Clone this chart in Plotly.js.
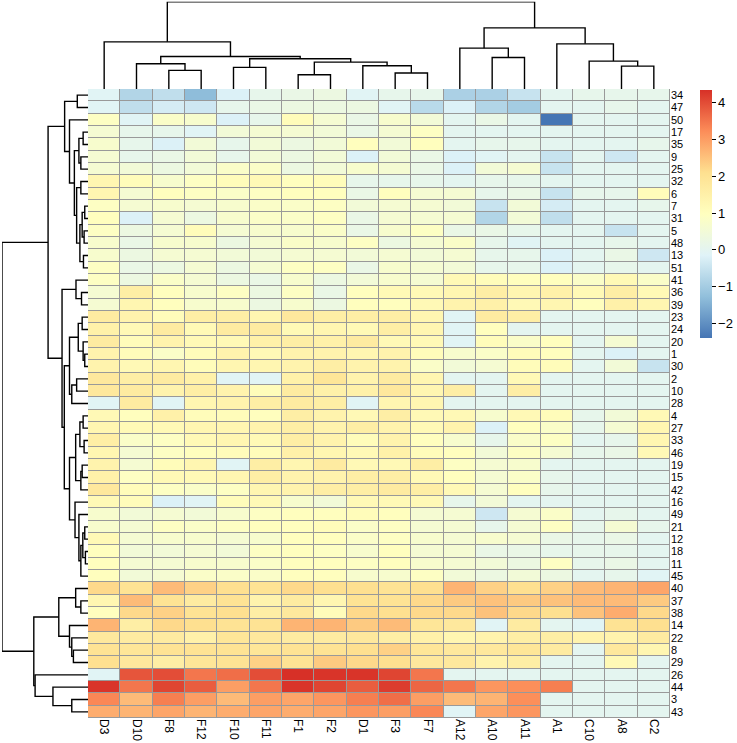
<!DOCTYPE html>
<html>
<head>
<meta charset="utf-8">
<script src="https://cdn.plot.ly/plotly-3.0.1.min.js"></script>
<style>html,body{margin:0;padding:0;background:#fff;}#chart{width:737px;height:743px;}</style>
</head>
<body>
<div id="chart"></div>
<script>
// Column (sample) labels in display order
const columns = ["D3","D10","F8","F12","F10","F11","F1","F2","D1","F3","F7","A12","A10","A11","A1","C10","A8","C2"];
// Row labels in display order (top to bottom)
const rowLabels = ["34","47","50","17","35","9","25","32","6","7","31","5","48","13","51","41","36","39","23","24","20","1","30","2","10","28","4","27","33","46","19","15","42","16","49","21","12","18","11","45","40","37","38","14","22","8","29","26","44","3","43"];

// Values per row (same order as rowLabels), columns as above
const r34 = [-0.1,-0.8,-0.6,-1.3,-0.2,0.1,0.2,0.3,-0.1,0.1,0.1,-0.9,-0.9,-0.5,0,0.1,0.1,0.1];
const r47 = [-0.1,-0.6,-0.3,-0.4,0.1,0.2,0.3,0.3,0.3,-0.1,-0.7,-0.2,-0.8,-1.0,0,0,0.1,0];
const r50 = [0.9,-0.1,0.8,0.7,-0.2,0.1,1.1,0.6,0.2,0.7,0.5,0,0.2,0,-2.4,0,0,0];
const r17 = [0.6,0.1,0.1,-0.1,0.5,0.6,0.6,0.5,0.2,0.6,0.9,0,0,0,0,0,0,0];
const r35 = [0.7,0.1,-0.2,0.5,0.1,0.5,0.3,0.5,1.0,0.5,1.0,0,0.1,0.1,0,0,0,0.1];
const r9  = [0.6,0.1,0.2,0.5,0.1,0.5,0.3,0.5,-0.2,0.5,0.2,-0.2,-0.1,0,-0.5,0,-0.4,0];
const r25 = [0.6,0.5,0.3,0.5,0.8,0.8,0.3,0.5,0.7,0.6,0.2,-0.2,0.5,0.6,-0.5,0,0,0];
const r32 = [1.3,1.1,0.7,0.9,1.1,1.2,1.0,1.1,0.1,0.1,0.1,0,0.1,0.1,0,0,0,0];
const r6  = [1.3,0.6,1.0,0.9,0.8,0.9,1.0,1.0,0.2,1.0,0.6,0.6,0.1,0.2,-0.5,0.1,0.1,1.1];
const r7  = [0.9,0.6,0.7,0.6,0.7,0.8,0.8,0.9,0.5,0.6,0.6,0.5,-0.5,0.5,-0.3,0,0,0.1];
const r31 = [1.0,-0.2,0.6,0.3,0.7,0.8,0.8,0.9,0.2,0.6,0.6,0.6,-0.8,0.5,-0.6,0,0,0];
const r5  = [0.9,0.3,0.6,1.1,0.6,0.7,0.7,0.8,0.2,0.7,0.9,0.2,0.2,0.1,0,0,-0.5,0];
const r48 = [0.7,0.2,0.7,0.7,0.3,0.6,0.8,0.7,0.9,0.3,0.6,0.8,0.1,-0.1,0,0,0.1,0];
const r13 = [0.7,0.3,0.6,0.6,0.5,0.5,0.6,0.6,0.5,0.6,0.5,0.6,0.1,0.1,-0.2,0,0.2,-0.4];
const r51 = [0.9,0.2,0.3,0.6,0.3,0.6,0.9,0.9,0.2,0.7,0.6,0.5,0.1,0.1,-0.2,0,0.1,0];
const r41 = [0.9,0.3,0.8,0.6,0.3,0.2,0.7,0.3,0.5,0.7,0.6,1.2,1.1,1.0,1.0,0.8,1.2,0.8];
const r36 = [0.6,1.6,1.0,0.7,0.9,0.3,0.9,0.2,1.0,1.2,1.2,1.3,1.6,1.3,1.5,1.2,1.6,1.2];
const r39 = [0.6,1.3,1.0,0.7,0.7,0.3,0.7,0.3,1.0,1.0,1.2,1.4,1.5,1.2,1.3,1.0,1.5,1.3];
const r23 = [1.7,1.4,1.1,1.6,1.6,1.3,1.8,1.6,1.6,1.6,1.3,-0.1,1.7,1.6,0,0,0,0];
const r24 = [1.5,1.2,1.7,1.2,1.7,1.7,1.2,1.3,1.2,1.6,1.3,-0.1,1.0,0,0,0,0,0];
const r20 = [1.7,1.1,1.4,1.2,1.2,1.5,1.6,1.5,1.7,1.2,1.2,-0.1,1.1,0.8,1.0,0,0.6,0];
const r1  = [1.4,1.1,0.8,1.1,1.4,1.2,1.4,1.4,1.3,1.4,1.1,0.7,0.8,1.1,1.0,0,-0.2,0];
const r30 = [1.4,1.2,1.3,1.1,1.3,1.3,1.4,1.6,1.4,1.4,0.8,0.5,0.6,1.1,1.1,0,0.5,-0.5];
const r2  = [1.8,1.6,1.7,1.5,-0.1,-0.1,1.5,1.9,1.4,1.7,1.3,0,0,1.2,0,0,0,0];
const r10 = [1.8,1.7,1.4,1.6,1.4,1.1,1.7,1.5,1.5,1.8,1.3,1.6,0,1.6,0,0,0,0];
const r28 = [-0.1,1.7,-0.1,1.3,1.4,1.6,1.7,1.6,-0.1,1.3,1.3,0,0,0,0,0,0,0];
const r4  = [1.2,1.0,1.5,1.1,1.1,1.0,1.6,1.4,1.2,1.6,1.2,1.2,0.7,1.2,1.1,0.1,0.5,1.2];
const r27 = [1.3,1.2,1.2,1.3,1.3,1.4,1.6,1.4,1.6,1.4,1.2,1.4,-0.2,1.0,0.8,0.1,0.6,1.3];
const r33 = [1.6,0.8,0.9,1.2,1.3,1.2,1.6,1.4,1.1,1.4,1.0,0.7,0.1,0.8,0.9,0,0.1,1.3];
const r46 = [1.3,0.6,0.9,1.0,1.1,1.1,1.5,1.3,1.2,1.5,1.1,1.0,0.5,0.9,0.6,0.1,0.2,1.2];
const r19 = [1.4,0.6,1.1,1.3,-0.1,1.6,1.3,1.7,1.2,1.2,1.6,0.9,0.6,0.7,0,0,0,0];
const r15 = [1.5,0.9,1.2,1.2,1.3,1.6,1.4,1.4,1.6,1.6,1.2,1.0,0.6,0.8,0.1,0,0,0];
const r42 = [1.8,1.1,0.9,0.8,0.9,1.3,1.4,1.6,1.6,1.7,1.6,1.2,0.6,1.0,0.1,0,0,0];
const r16 = [1.2,1.1,-0.2,-0.1,1.1,1.2,0.7,0.5,1.2,1.2,1.2,0.1,0.5,0,0,0,0,0];
const r49 = [0.7,0.5,0.6,0.5,0.7,0.9,1.0,1.0,1.1,1.0,0.6,0.6,-0.4,0.6,0.8,0,0.1,0];
const r21 = [0.7,0.6,0.9,0.8,0.9,1.0,1.0,1.1,0.8,0.9,0.6,0.6,0.1,0.6,0.9,0.1,0.6,0.1];
const r12 = [1.2,0.6,0.7,0.7,0.6,0.7,1.0,1.0,0.8,0.9,0.7,0.6,0.7,0.6,0.2,0.1,0.2,0];
const r18 = [1.0,0.5,0.5,0.6,0.5,0.9,1.0,0.9,0.7,1.0,0.6,0.6,0.2,0.2,0.1,0.1,0.1,0];
const r11 = [1.0,0.6,0.6,0.7,0.7,0.8,1.0,1.0,0.9,1.0,0.7,0.6,0.5,0.3,0.9,0.1,0.2,0];
const r45 = [1.0,0.5,0.6,0.8,0.8,0.8,1.0,1.0,0.7,0.7,0.9,0.5,0.3,0.5,0.3,0,0.1,-0.1];
const r40 = [2.2,2.0,2.6,2.3,2.1,2.0,2.2,2.1,2.1,2.0,2.1,2.7,2.3,2.1,2.3,2.6,2.7,2.9];
const r37 = [1.3,2.6,2.0,1.7,2.0,1.4,1.7,1.3,2.0,2.0,2.2,2.4,2.5,2.4,2.5,2.6,2.6,2.4];
const r38 = [1.0,2.2,2.3,2.0,2.1,1.6,1.8,1.1,2.2,2.1,2.2,2.2,2.5,2.2,2.1,2.5,2.8,2.2];
const r14 = [2.7,1.6,2.2,2.1,2.0,2.0,2.7,2.7,2.4,2.6,1.9,1.8,-0.1,1.7,0,-0.1,2.0,2.1];
const r22 = [1.8,1.7,1.7,1.5,1.9,1.8,1.7,1.7,1.8,1.6,1.5,1.3,1.4,1.6,1.6,1.4,1.4,1.7];
const r8  = [2.0,1.9,2.0,2.0,2.0,1.9,2.0,2.0,2.1,2.3,1.9,1.8,1.8,1.9,1.7,0,1.8,1.3];
const r29 = [2.1,1.8,1.6,1.9,2.0,2.3,2.0,2.4,2.2,2.1,1.8,1.8,1.4,1.6,0,0,1.2,0];
const r26 = [-0.1,3.9,4.0,3.5,3.6,4.0,4.35,4.3,4.3,4.1,3.5,0,0,0,0,0,0,0];
const r44 = [4.3,3.5,4.1,3.8,3.0,3.5,4.3,4.1,3.8,4.2,3.7,3.5,3.1,3.2,3.4,0,0,0];
const r3  = [3.3,2.6,3.4,3.0,2.6,3.0,2.9,3.1,3.4,3.6,3.0,2.6,2.7,3.2,0,0,0,0];
const r43 = [2.8,2.7,2.9,2.7,2.8,2.9,2.8,2.9,3.1,3.0,3.3,-0.1,2.9,3.1,0,0,0,0];

const values = [r34,r47,r50,r17,r35,r9,r25,r32,r6,r7,r31,r5,r48,r13,r51,r41,r36,r39,r23,r24,r20,r1,r30,r2,r10,r28,r4,r27,r33,r46,r19,r15,r42,r16,r49,r21,r12,r18,r11,r45,r40,r37,r38,r14,r22,r8,r29,r26,r44,r3,r43];

// Column clustering (hclust-style merges: negative = leaf -(index+1), positive = earlier merge number; third = height)
const colMerges = [
  [-3,-4,56],[-2,1,76],[-5,-6,65],[-7,-8,43],[-10,-11,48],[-9,5,70],[4,6,81],[3,7,91],[2,8,98],[-1,9,142],
  [-13,-14,95],[-12,11,123],[-17,-18,69],[-16,13,84],[-15,14,136],[12,15,184],[10,16,263]
];
// Row clustering
const rowMerges = [
  [-1,-2,33],[-4,-5,15],[-6,-7,22],[2,3,28],[-8,-9,22],[-10,-11,10],[-12,-13,12],[6,7,18],[-14,-15,14],[8,9,25],
  [5,10,35],[4,11,42],[-3,12,57],[1,13,72],
  [-17,-18,20],[-16,15,37],[-19,-20,18],[-22,-23,10],[-21,18,15],[17,19,30],[-24,-25,35],[21,-26,50],[20,22,57],
  [-27,-28,15],[-29,-30,12],[24,25,25],[-31,-32,18],[-33,27,22],[26,28,38],[-36,-37,10],[-38,-39,8],[30,31,16],
  [32,-40,22],[-35,33,28],[-34,34,40],[29,35,57],[23,36,73],[16,37,80],[14,38,123],
  [-42,-43,22],[-41,40,38],[-46,-47,45],[-45,42,50],[-44,43,57],[41,44,90],[-50,-51,50],[-49,46,108],[-48,47,163],[45,48,167],
  [39,49,265]
];

function dendroSegments(merges){
  const pos = [], ht = [];
  const P = a => a < 0 ? (-a - 1) : pos[a - 1];
  const H = a => a < 0 ? 0 : ht[a - 1];
  const p = [], h = [];
  merges.forEach(m => {
    const [a, b, hh] = m;
    const pa = P(a), pb = P(b), ha = H(a), hb = H(b);
    p.push(pa, pa, pb, pb, null);
    h.push(ha, hh, hh, hb, null);
    pos.push((pa + pb) / 2); ht.push(hh);
  });
  return {p, h};
}

const colD = dendroSegments(colMerges);
const rowD = dendroSegments(rowMerges);

let zmin = Infinity, zmax = -Infinity;
values.forEach(r => r.forEach(v => { if (v < zmin) zmin = v; if (v > zmax) zmax = v; }));

const pal = ["#4575B4","#91BFDB","#E0F3F8","#FFFFBF","#FEE090","#FC8D59","#D73027"];
const colorscale = pal.map((c, i) => [i / (pal.length - 1), c]);

const W = 737, Hh = 743;
const hmL = 88, hmR = 670, hmT = 89, hmB = 718;

const traces = [
  {
    type: 'heatmap', z: values, x: columns.map((_, i) => i), y: rowLabels.map((_, i) => i),
    xaxis: 'x', yaxis: 'y', colorscale: colorscale, zmin: zmin, zmax: zmax,
    xgap: 1, ygap: 1, hoverinfo: 'skip',
    colorbar: {
      x: 700 / W, xanchor: 'left', y: 1 - 90 / Hh, yanchor: 'top', xpad: 0, ypad: 0,
      lenmode: 'pixels', len: 248, thicknessmode: 'pixels', thickness: 12,
      outlinewidth: 0, tickvals: [-2,-1,0,1,2,3,4], ticks: 'outside', ticklen: 4, tickcolor: '#000',
      tickfont: {family: 'Liberation Sans, Arial, sans-serif', size: 13, color: '#000'}
    }
  },
  {
    type: 'scatter', mode: 'lines', x: colD.p, y: colD.h, xaxis: 'x', yaxis: 'y2',
    line: {color: '#000', width: 1.4}, hoverinfo: 'skip', showlegend: false, connectgaps: false
  },
  {
    type: 'scatter', mode: 'lines', x: rowD.h, y: rowD.p, xaxis: 'x2', yaxis: 'y',
    line: {color: '#000', width: 1.4}, hoverinfo: 'skip', showlegend: false, connectgaps: false
  }
];

const font = {family: 'Liberation Sans, Arial, sans-serif', size: 12, color: '#000'};
const rowFont = {family: 'Liberation Sans, Arial, sans-serif', size: 11, color: '#000'};
const layout = {
  width: W, height: Hh, margin: {l: 0, r: 0, t: 0, b: 0, autoexpand: false},
  paper_bgcolor: '#fff', plot_bgcolor: '#fff', showlegend: false, font: font,
  xaxis: {
    domain: [hmL / W, hmR / W], range: [-0.5, columns.length - 0.5], anchor: 'y',
    tickvals: columns.map((_, i) => i), ticktext: columns, tickangle: 90,
    showgrid: false, zeroline: false, showline: false, ticks: '', tickfont: font, automargin: false
  },
  yaxis: {
    domain: [1 - hmB / Hh, 1 - hmT / Hh], range: [rowLabels.length - 0.5, -0.5], anchor: 'x', side: 'right',
    tickvals: rowLabels.map((_, i) => i), ticktext: rowLabels,
    showgrid: false, zeroline: false, showline: false, ticks: '', tickfont: rowFont, automargin: false
  },
  xaxis2: {domain: [2 / W, hmL / W], range: [265, 0], anchor: 'y', visible: false, showgrid: false, zeroline: false},
  yaxis2: {domain: [1 - hmT / Hh, 1 - 1.7 / Hh], range: [0, 263], anchor: 'x', visible: false, showgrid: false, zeroline: false},
  shapes: [{
    type: 'rect', xref: 'x', yref: 'y', x0: -0.5, x1: columns.length - 0.5, y0: -0.5, y1: rowLabels.length - 0.5,
    fillcolor: '#999999', line: {color: '#999999', width: 1}, layer: 'below'
  }]
};

Plotly.newPlot('chart', traces, layout, {displayModeBar: false, staticPlot: true});
</script>
</body>
</html>
